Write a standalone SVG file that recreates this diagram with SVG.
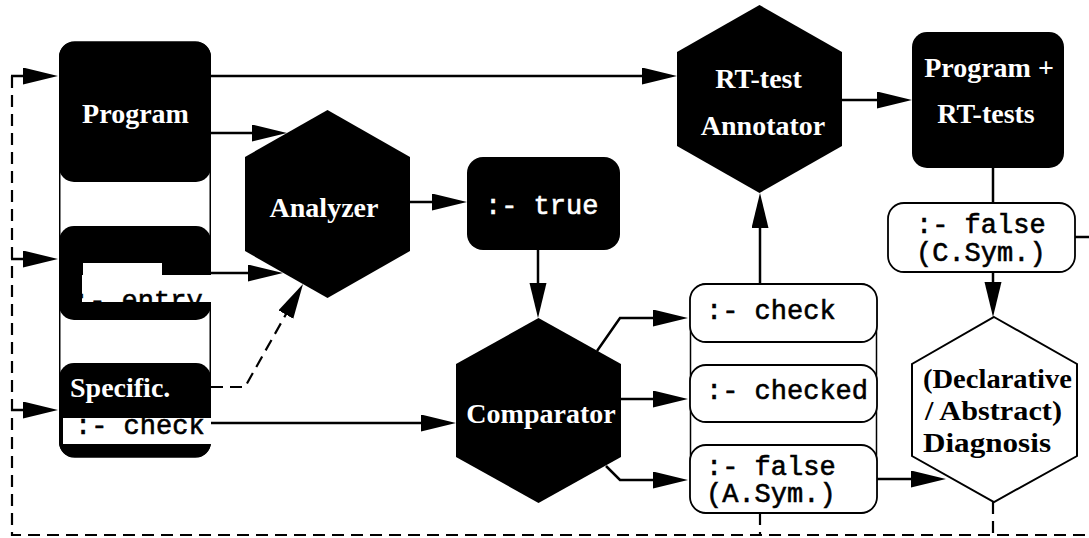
<svg xmlns="http://www.w3.org/2000/svg" width="1089" height="538" viewBox="0 0 1089 538">
<style>
.blk{fill:#000}
.wbox{fill:#fff;stroke:#000;stroke-width:1.8}
.outline{fill:none;stroke:#000;stroke-width:1.5}
.lbl{font-family:"Liberation Serif","Times New Roman",serif;font-weight:bold;font-size:28px}
.wt{fill:#fff}
.bt{fill:#000}
.mono{font-family:"Liberation Mono","Courier New",monospace;font-size:27px;fill:#000;stroke:#000;stroke-width:0.6}
.monow{font-family:"Liberation Mono","Courier New",monospace;font-size:27px;fill:#fff;stroke:#fff;stroke-width:0.6}
.ln{fill:none;stroke:#000;stroke-width:2.5}
.dash{fill:none;stroke:#000;stroke-width:2.2;stroke-dasharray:12 7}
</style>
<defs>
<marker id="ah" markerUnits="userSpaceOnUse" markerWidth="36" markerHeight="18" refX="25" refY="8.5" orient="auto" viewBox="0 0 36 18">
<path d="M0,0 L35,8.5 L0,17 z" fill="#000"/>
</marker>
<clipPath id="cEntry"><rect x="82" y="263" width="129" height="39"/></clipPath>
<clipPath id="cCheck"><rect x="63" y="418" width="148" height="26"/></clipPath>
</defs>

<g id="left-column">
<rect class="outline" x="59.75" y="42" width="150.5" height="415" rx="15"/>
</g>

<g id="program">
<rect class="blk" x="59" y="42" width="152" height="140" rx="15"/>
<text class="lbl wt" x="135.5" y="123" text-anchor="middle">Program</text>
</g>

<g id="entry">
<rect class="blk" x="59" y="226" width="152" height="94" rx="15"/>
<rect fill="#fff" x="83" y="263" width="79" height="13"/>
<rect fill="#fff" x="82" y="275" width="129" height="27"/>
<text class="mono" x="73" y="309" clip-path="url(#cEntry)">:- entry</text>
</g>

<g id="specific">
<rect class="blk" x="59" y="363" width="152" height="94" rx="15"/>
<rect fill="#fff" x="63" y="418" width="148" height="26"/>
<text class="lbl wt" x="70" y="397">Specific.</text>
<text class="mono" x="75" y="434" clip-path="url(#cCheck)">:- check</text>
</g>

<g id="analyzer">
<polygon class="blk" points="327.5,110 410,157 410,251 327.5,298 245,251 245,157"/>
<text class="lbl wt" x="324" y="217" text-anchor="middle">Analyzer</text>
</g>

<g id="true">
<rect class="blk" x="467" y="157" width="153" height="93" rx="16"/>
<text class="monow" x="485" y="214">:- true</text>
</g>

<g id="comparator">
<polygon class="blk" points="538.5,318 621,364 621,457 538.5,503 456,457 456,364"/>
<text class="lbl wt" x="541" y="423" text-anchor="middle">Comparator</text>
</g>

<g id="right-column">
<rect class="outline" x="690.5" y="284" width="186" height="229" rx="16"/>
</g>

<g id="check">
<rect class="wbox" x="690" y="284" width="187" height="58" rx="16"/>
<text class="mono" x="706" y="319">:- check</text>
</g>

<g id="checked">
<rect class="wbox" x="690" y="365" width="187" height="57" rx="16"/>
<text class="mono" x="706" y="399">:- checked</text>
</g>

<g id="false-asym">
<rect class="wbox" x="690" y="445" width="187" height="68" rx="16"/>
<text class="mono" x="706" y="475">:- false</text>
<text class="mono" x="706" y="502">(A.Sym.)</text>
</g>

<g id="annotator">
<polygon class="blk" points="759.5,5 842,52 842,146 759.5,193 677,146 677,52"/>
<text class="lbl wt" x="758.5" y="88" text-anchor="middle">RT-test</text>
<text class="lbl wt" x="763" y="135" text-anchor="middle">Annotator</text>
</g>

<g id="program-rt">
<rect class="blk" x="912" y="32" width="152" height="136" rx="15"/>
<text class="lbl wt" x="989" y="77" text-anchor="middle">Program +</text>
<text class="lbl wt" x="986" y="123" text-anchor="middle">RT-tests</text>
</g>

<g id="false-csym">
<rect class="wbox" x="888" y="203" width="187" height="69" rx="16"/>
<text class="mono" x="916" y="233">:- false</text>
<text class="mono" x="916" y="261">(C.Sym.)</text>
</g>

<g id="diagnosis">
<polygon points="994,317 1077,364 1077,456 994,502 912,456 912,364" fill="#fff" stroke="#000" stroke-width="2"/>
<text class="lbl bt" x="923" y="388" textLength="149" lengthAdjust="spacingAndGlyphs">(Declarative</text>
<text class="lbl bt" x="925" y="420" textLength="137" lengthAdjust="spacingAndGlyphs">/ Abstract)</text>
<text class="lbl bt" x="923" y="452" textLength="128" lengthAdjust="spacingAndGlyphs">Diagnosis</text>
</g>

<g id="connectors">
<path class="ln" d="M211,76 H667" marker-end="url(#ah)"/>
<path class="ln" d="M211,133 H277" marker-end="url(#ah)"/>
<path class="ln" d="M210,273 H273" marker-end="url(#ah)"/>
<path class="dash" d="M211,387 H245 L298.1,292.7" marker-end="url(#ah)"/>
<path class="ln" d="M211,423 H446" marker-end="url(#ah)"/>
<path class="ln" d="M410,202 H457" marker-end="url(#ah)"/>
<path class="ln" d="M538,250 V308" marker-end="url(#ah)"/>
<path class="ln" d="M597,351 L620,318 H678" marker-end="url(#ah)"/>
<path class="ln" d="M621,399 H678" marker-end="url(#ah)"/>
<path class="ln" d="M606,466 L620,480 H678" marker-end="url(#ah)"/>
<path class="ln" d="M760,284 V203" marker-end="url(#ah)"/>
<path class="ln" d="M842,100 H902" marker-end="url(#ah)"/>
<path class="ln" d="M993,168 V203"/>
<path class="ln" d="M993,272 V307" marker-end="url(#ah)"/>
<path class="ln" d="M877,479 H936" marker-end="url(#ah)"/>
<path class="ln" d="M1075,237 H1089"/>
<path class="dash" d="M12,76 V535 H1089"/>
<path class="ln" d="M11,76 H48" marker-end="url(#ah)"/>
<path class="ln" d="M11,259 H48" marker-end="url(#ah)"/>
<path class="ln" d="M11,410 H48" marker-end="url(#ah)"/>
<path class="dash" d="M760,513 V535"/>
<path class="dash" d="M993,502 V535"/>
</g>
</svg>
